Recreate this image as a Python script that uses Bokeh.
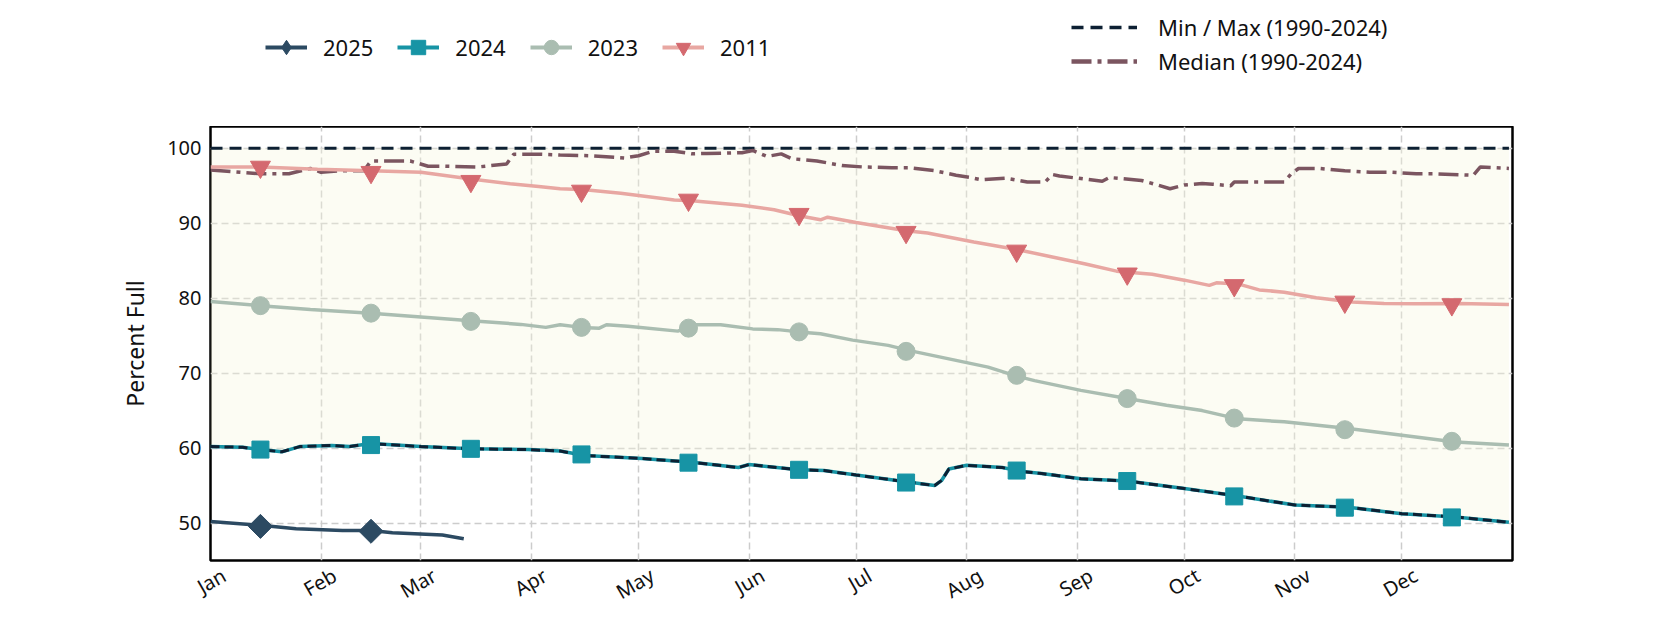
import numpy as np
from math import pi
from bokeh.plotting import figure
from bokeh.layouts import column
from bokeh.models import Legend, LegendItem, FixedTicker
from bokeh.embed import file_html
from bokeh.resources import INLINE

# ---------------- data (day of year, 0 = Jan 1) ----------------
month_names = ["Jan", "Feb", "Mar", "Apr", "May", "Jun",
               "Jul", "Aug", "Sep", "Oct", "Nov", "Dec"]
month_start_days = [0, 31, 59, 90, 120, 151, 181, 212, 243, 273, 304, 334]
marker_days = [14, 45, 73, 104, 134, 165, 195, 226, 257, 287, 318, 348]
y_ticks = [50, 60, 70, 80, 90, 100]

max_days = [0, 364]
max_vals = [100, 100]

median_days = [0, 14, 22, 28, 31, 37, 43, 45, 51, 56, 61, 65, 75, 83, 85, 92, 98,
               106, 116, 120, 124, 130, 135, 139, 149, 152, 156, 160, 163, 170,
               177, 183, 191, 196, 203, 209, 213, 216, 223, 229, 234, 236, 238,
               250, 252, 261, 264, 269, 273, 278, 281, 286, 287, 294, 301, 303,
               305, 311, 318, 325, 331, 338, 343, 354, 356, 364]
median_vals = [97.1, 96.6, 96.6, 97.3, 96.8, 97.0, 97.0, 98.3, 98.3, 98.3, 97.6,
               97.6, 97.5, 97.9, 99.2, 99.2, 99.1, 99.0, 98.7, 99.0, 99.6, 99.6,
               99.25, 99.3, 99.4, 99.7, 98.9, 99.25, 98.6, 98.3, 97.7, 97.5, 97.4,
               97.4, 97.0, 96.4, 96.1, 95.8, 96.0, 95.5, 95.5, 96.5, 96.3, 95.6,
               96.1, 95.7, 95.3, 94.6, 95.1, 95.3, 95.2, 95.0, 95.5, 95.5, 95.5,
               96.6, 97.3, 97.3, 97.0, 96.8, 96.8, 96.6, 96.6, 96.4, 97.5, 97.3]

y2011_days = [0, 14, 30, 45, 59, 73, 84, 92, 98, 105, 115, 120, 130, 135, 149, 158,
              165, 171, 173, 181, 195, 201, 214, 226, 236, 245, 254, 264, 273, 280,
              282, 288, 294, 301, 310, 320, 329, 338, 350, 364]
y2011_vals = [97.5, 97.5, 97.2, 97.0, 96.8, 95.9, 95.25, 94.9, 94.6, 94.45, 94.0,
              93.7, 93.1, 93.0, 92.4, 91.8, 91.0, 90.45, 90.8, 90.1, 89.0, 88.7,
              87.5, 86.5, 85.5, 84.6, 83.6, 83.2, 82.4, 81.7, 82.05, 81.9, 81.1,
              80.8, 80.05, 79.5, 79.3, 79.25, 79.3, 79.15]
y2011_marker_vals = [97.5, 96.8, 95.6, 94.3, 93.1, 91.2, 88.8, 86.3, 83.25, 81.7,
                     79.5, 79.15]

y2023_days = [0, 14, 28, 45, 59, 73, 87, 94, 98, 104, 109, 111, 117, 131, 136, 143,
              152, 159, 165, 171, 180, 190, 196, 204, 218, 226, 231, 244, 257, 268,
              278, 288, 301, 319, 334, 349, 364]
y2023_vals = [79.55, 79.0, 78.5, 78.0, 77.5, 77.0, 76.5, 76.1, 76.45, 76.1, 76.0,
              76.45, 76.25, 75.6, 76.45, 76.45, 75.9, 75.8, 75.5, 75.25, 74.4,
              73.7, 73.0, 72.2, 70.8, 69.6, 69.0, 67.7, 66.6, 65.7, 65.0, 63.9,
              63.5, 62.6, 61.7, 60.8, 60.4]
y2023_marker_vals = [79.0, 78.0, 76.9, 76.1, 76.0, 75.5, 72.9, 69.7, 66.6, 64.0,
                     62.45, 60.9]

y2024_days = [0, 9, 14, 20, 25, 34, 39, 45, 59, 73, 89, 98, 105, 121, 135, 148,
              151, 165, 172, 181, 195, 203, 205, 207, 212, 222, 227, 233, 244, 257,
              273, 288, 304, 319, 334, 349, 364]
y2024_vals = [60.2, 60.1, 59.8, 59.5, 60.2, 60.35, 60.2, 60.6, 60.2, 59.9, 59.8,
              59.6, 59.0, 58.6, 58.1, 57.4, 57.8, 57.1, 57.0, 56.4, 55.5, 55.0,
              55.7, 57.2, 57.7, 57.4, 56.9, 56.6, 55.9, 55.6, 54.6, 53.6, 52.4,
              52.1, 51.25, 50.8, 50.1]
y2024_marker_vals = [59.8, 60.4, 59.9, 59.15, 58.05, 57.1, 55.4, 57.0, 55.6, 53.55,
                     52.05, 50.75]

# minimum of record (1990-2024) follows the 2024 curve
min_days = y2024_days
min_vals = y2024_vals

y2025_days = [0, 14, 24, 37, 45, 51, 65, 71]
y2025_vals = [50.2, 49.7, 49.25, 49.0, 49.0, 48.7, 48.4, 47.9]
y2025_marker_days = [14, 45]
y2025_marker_vals = [49.55, 48.9]

# ---------------- styling ----------------
FONT = "Noto Sans"
TXT = "#111111"
C_MAX = "#0d2033"
C_MED = "#7b5560"
C_2011_L = "#e8a7a2"
C_2011_M = "#d4696f"
C_2023 = "#aabdb1"
C_2024 = "#1794a5"
C_2025 = "#2c4a62"

# month label anchor offset (days) so rotated labels sit centred on month starts
label_shift = 3.8

p = figure(width=1680, height=504, output_backend="svg", toolbar_location=None,
           x_range=(0, 365), y_range=(45, 102.9),
           min_border_left=210, min_border_right=168,
           min_border_top=0, min_border_bottom=70)

p.background_fill_color = "white"
p.border_fill_color = "white"
p.outline_line_color = "black"
p.outline_line_width = 2.5

label_ticks = [d + label_shift for d in month_start_days]
p.xaxis.ticker = FixedTicker(ticks=label_ticks)
p.xaxis.major_label_overrides = {t: m for t, m in zip(label_ticks, month_names)}
p.xaxis.major_label_orientation = pi / 6
p.yaxis.ticker = FixedTicker(ticks=y_ticks)
p.yaxis.axis_label = "Percent Full"
for ax in (p.xaxis[0], p.yaxis[0]):
    ax.axis_line_color = None
    ax.major_tick_line_color = None
    ax.minor_tick_line_color = None
    ax.major_tick_out = 0
    ax.major_tick_in = 0
    ax.minor_tick_out = 0
    ax.major_label_text_font = FONT
    ax.major_label_text_font_size = "20px"
    ax.major_label_text_color = TXT
    ax.major_label_standoff = 9
p.xaxis.major_label_standoff = 13
p.yaxis.axis_label_text_font = FONT
p.yaxis.axis_label_text_font_size = "23px"
p.yaxis.axis_label_text_font_style = "normal"
p.yaxis.axis_label_text_color = TXT
p.yaxis.axis_label_standoff = 13

p.xgrid[0].ticker = FixedTicker(ticks=month_start_days)
for g in (p.xgrid[0], p.ygrid[0]):
    g.grid_line_color = "#cccccc"
    g.grid_line_width = 1.5
    g.grid_line_dash = "7 4"

# fill between min and max
p.varea(x=min_days, y1=min_vals, y2=[max_vals[0]] * len(min_days),
        fill_color="#f5f5dc", fill_alpha=0.35)

p.line(max_days, max_vals, line_color=C_MAX, line_width=3, line_dash="12 7")
p.line(median_days, median_vals, line_color=C_MED, line_width=3.5,
       line_dash="20 6 4 6")

p.line(y2011_days, y2011_vals, line_color=C_2011_L, line_width=3.5)
p.scatter(marker_days, y2011_marker_vals, marker="inverted_triangle",
          size=20, fill_color=C_2011_M, line_color=C_2011_M)

p.line(y2023_days, y2023_vals, line_color=C_2023, line_width=3.5)
p.scatter(marker_days, y2023_marker_vals, marker="circle", size=18,
          fill_color=C_2023, line_color=C_2023)

p.line(y2024_days, y2024_vals, line_color=C_2024, line_width=3.5)
p.line(min_days, min_vals, line_color=C_MAX, line_width=3, line_dash="9 5")
p.scatter(marker_days, y2024_marker_vals, marker="square", size=17,
          fill_color=C_2024, line_color=C_2024)

p.line(y2025_days, y2025_vals, line_color=C_2025, line_width=3.5)
p.scatter(y2025_marker_days, y2025_marker_vals, marker="square",
          angle=pi / 4, size=17, fill_color=C_2025, line_color=C_2025)

# ---------------- legend strip above the chart ----------------
# (its frame is aligned with the chart frame, so offsets are from x = 210)
top = figure(width=1680, height=126, output_backend="svg", toolbar_location=None,
             x_range=(0, 1), y_range=(0, 1), x_axis_type=None, y_axis_type=None,
             min_border=0)
top.outline_line_color = None
top.background_fill_color = "white"
top.border_fill_color = "white"

off = [-5]
d2025 = [top.line([-6, -5], [-5, -5], line_color=C_2025, line_width=4),
         top.scatter(off, off, marker="diamond", fill_color=C_2025,
                     line_color=C_2025)]
d2024 = [top.line([-6, -5], [-5, -5], line_color=C_2024, line_width=4),
         top.scatter(off, off, marker="square", fill_color=C_2024,
                     line_color=C_2024)]
d2023 = [top.line([-6, -5], [-5, -5], line_color=C_2023, line_width=4),
         top.scatter(off, off, marker="circle", fill_color=C_2023,
                     line_color=C_2023)]
d2011 = [top.line([-6, -5], [-5, -5], line_color=C_2011_L, line_width=4),
         top.scatter(off, off, marker="inverted_triangle", fill_color=C_2011_M,
                     line_color=C_2011_M)]
dmax = [top.line([-6, -5], [-5, -5], line_color=C_MAX, line_width=3.5,
                 line_dash="12 7")]
dmed = [top.line([-6, -5], [-5, -5], line_color=C_MED, line_width=4.5,
                 line_dash="20 6 4 6")]

common = dict(padding=0, margin=0, border_line_color=None,
              background_fill_alpha=0, label_text_font=FONT,
              label_text_font_size="22px", label_text_color=TXT)

leg1 = Legend(items=[LegendItem(label="2025", renderers=d2025),
                     LegendItem(label="2024", renderers=d2024),
                     LegendItem(label="2023", renderers=d2023),
                     LegendItem(label="2011", renderers=d2011)],
              orientation="horizontal", location=(55, 61),
              glyph_width=42, glyph_height=36, label_standoff=16, spacing=24,
              **common)
leg2 = Legend(items=[LegendItem(label="Min / Max (1990-2024)", renderers=dmax),
                     LegendItem(label="Median (1990-2024)", renderers=dmed)],
              orientation="vertical", location=(861, 50),
              glyph_width=66, glyph_height=24, label_standoff=21, spacing=4,
              **common)
top.add_layout(leg1, "center")
top.add_layout(leg2, "center")

layout = column(top, p, spacing=0)
open("out.html", "w").write(file_html(layout, INLINE))
